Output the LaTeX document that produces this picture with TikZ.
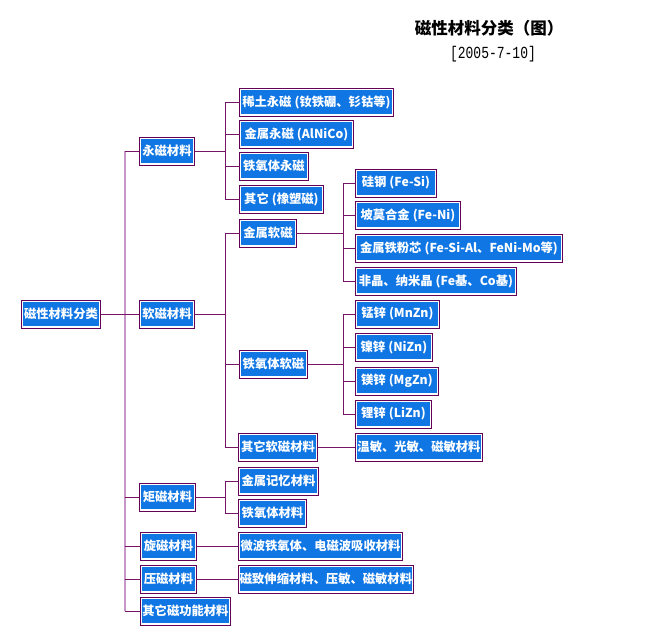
\documentclass[tikz,border=0pt]{standalone}
\usepackage{fontspec}
\newfontfamily\cjk{Noto Sans CJK SC}
\newfontfamily\datefont{Liberation Mono}
\definecolor{bblue}{RGB}{16,118,228}
\definecolor{bborder}{RGB}{100,0,85}
\definecolor{lconn}{RGB}{120,20,100}
\definecolor{ltrunk}{RGB}{200,150,200}
\newcommand\lp{\hspace{0.25em}(}
\newcommand\rp{)}
\tikzset{
  mbox/.style={draw=bborder, line width=0.9pt, fill=white, minimum height=28pt,
    inner sep=0pt, anchor=west, text=white,
    font=\cjk\bfseries\fontsize{12.3}{14}\selectfont,
    path picture={\fill[bblue] ([shift={(1.9pt,-1.9pt)}]path picture bounding box.north west)
       rectangle ([shift={(-1.9pt,1.9pt)}]path picture bounding box.south east);}},
  conn/.style={draw=lconn, line width=0.9pt},
  trunkline/.style={draw=ltrunk, line width=1.6pt}
}
\begin{document}
\begin{tikzpicture}[x={(1pt,0pt)}, y={(0pt,-1pt)}]
\useasboundingbox (0,0) rectangle (666,636);
% title
\node (title) at (489,28) {\cjk\bfseries\fontsize{16.5}{18}\selectfont 磁性材料分类（图）};
\node (date) at (493,54) {\scalebox{1}[1.3]{\datefont\fontsize{13}{14}\selectfont [2005-7-10]}};
% bus coordinates
\coordinate (t) at (125,0);
\coordinate (b) at (225,0);
\coordinate (c) at (343,0);
% root and level 1
\node[mbox, minimum width=79pt] (root) at (21,314) {磁性材料分类};
\node[mbox, minimum width=55pt] (ym) at (139,151) {永磁材料};
\node[mbox, minimum width=55pt] (rm) at (139,314) {软磁材料};
\node[mbox, minimum width=56pt] (jm) at (139,497) {矩磁材料};
\node[mbox, minimum width=56pt] (xm) at (140,546) {旋磁材料};
\node[mbox, minimum width=56pt] (yam) at (140,579) {压磁材料};
\node[mbox, minimum width=90pt] (qm) at (140,611) {其它磁功能材料};
% level 2
\node[mbox, minimum width=154pt] (y1) at (239,102) {稀土永磁\lp 钕铁硼、钐钴等\rp};
\node[mbox, minimum width=114pt] (y2) at (239,134) {金属永磁\lp AlNiCo\rp};
\node[mbox, minimum width=69pt] (y3) at (239,166) {铁氧体永磁};
\node[mbox, minimum width=84pt] (y4) at (239,199) {其它\lp 橡塑磁\rp};
\node[mbox, minimum width=57pt] (r1) at (239,233) {金属软磁};
\node[mbox, minimum width=68pt] (r2) at (239,364) {铁氧体软磁};
\node[mbox, minimum width=79pt] (r3) at (238,447) {其它软磁材料};
\node[mbox, minimum width=80pt] (j1) at (238,481) {金属记忆材料};
\node[mbox, minimum width=68pt] (j2) at (238,513) {铁氧体材料};
\node[mbox, minimum width=164pt] (x1) at (238,546) {微波铁氧体、电磁波吸收材料};
\node[mbox, minimum width=175pt] (p1) at (238,579) {磁致伸缩材料、压敏、磁敏材料};
% level 3
\node[mbox, minimum width=81pt] (s1) at (355,183) {硅钢\lp Fe-Si\rp};
\node[mbox, minimum width=105pt] (s2) at (355,215) {坡莫合金\lp Fe-Ni\rp};
\node[mbox, minimum width=207pt] (s3) at (355,248) {金属铁粉芯\lp Fe-Si-Al、FeNi-Mo等\rp};
\node[mbox, minimum width=161pt] (s4) at (355,281) {非晶、纳米晶\lp Fe基、Co基\rp};
\node[mbox, minimum width=84pt] (f1) at (355,314) {锰锌\lp MnZn\rp};
\node[mbox, minimum width=77pt] (f2) at (355,347) {镍锌\lp NiZn\rp};
\node[mbox, minimum width=83pt] (f3) at (355,381) {镁锌\lp MgZn\rp};
\node[mbox, minimum width=76pt] (f4) at (355,414) {锂锌\lp LiZn\rp};
\node[mbox, minimum width=127pt] (o1) at (355,447) {温敏、光敏、磁敏材料};
% trunk
\draw[trunkline] (ym.west -| t) -- (qm.west -| t);
\draw[conn] (root.east) -- (rm.west);
\foreach \n in {ym,jm,xm,yam,qm} \draw[conn] (\n.west -| t) -- (\n.west);
% level 2 buses
\draw[conn] (ym.east) -- (ym.east -| b);
\draw[conn] (y1.west -| b) -- (y4.west -| b);
\foreach \n in {y1,y2,y3,y4} \draw[conn] (\n.west -| b) -- (\n.west);
\draw[conn] (rm.east) -- (rm.east -| b);
\draw[conn] (r1.west -| b) -- (r3.west -| b);
\foreach \n in {r1,r2,r3} \draw[conn] (\n.west -| b) -- (\n.west);
\draw[conn] (jm.east) -- (jm.east -| b);
\draw[conn] (j1.west -| b) -- (j2.west -| b);
\foreach \n in {j1,j2} \draw[conn] (\n.west -| b) -- (\n.west);
\draw[conn] (xm.east) -- (x1.west);
\draw[conn] (yam.east) -- (p1.west);
% level 3 buses
\draw[conn] (r1.east) -- (r1.east -| c);
\draw[conn] (s1.west -| c) -- (s4.west -| c);
\foreach \n in {s1,s2,s3,s4} \draw[conn] (\n.west -| c) -- (\n.west);
\draw[conn] (r2.east) -- (r2.east -| c);
\draw[conn] (f1.west -| c) -- (f4.west -| c);
\foreach \n in {f1,f2,f3,f4} \draw[conn] (\n.west -| c) -- (\n.west);
\draw[conn] (r3.east) -- (o1.west);
\end{tikzpicture}
\end{document}
